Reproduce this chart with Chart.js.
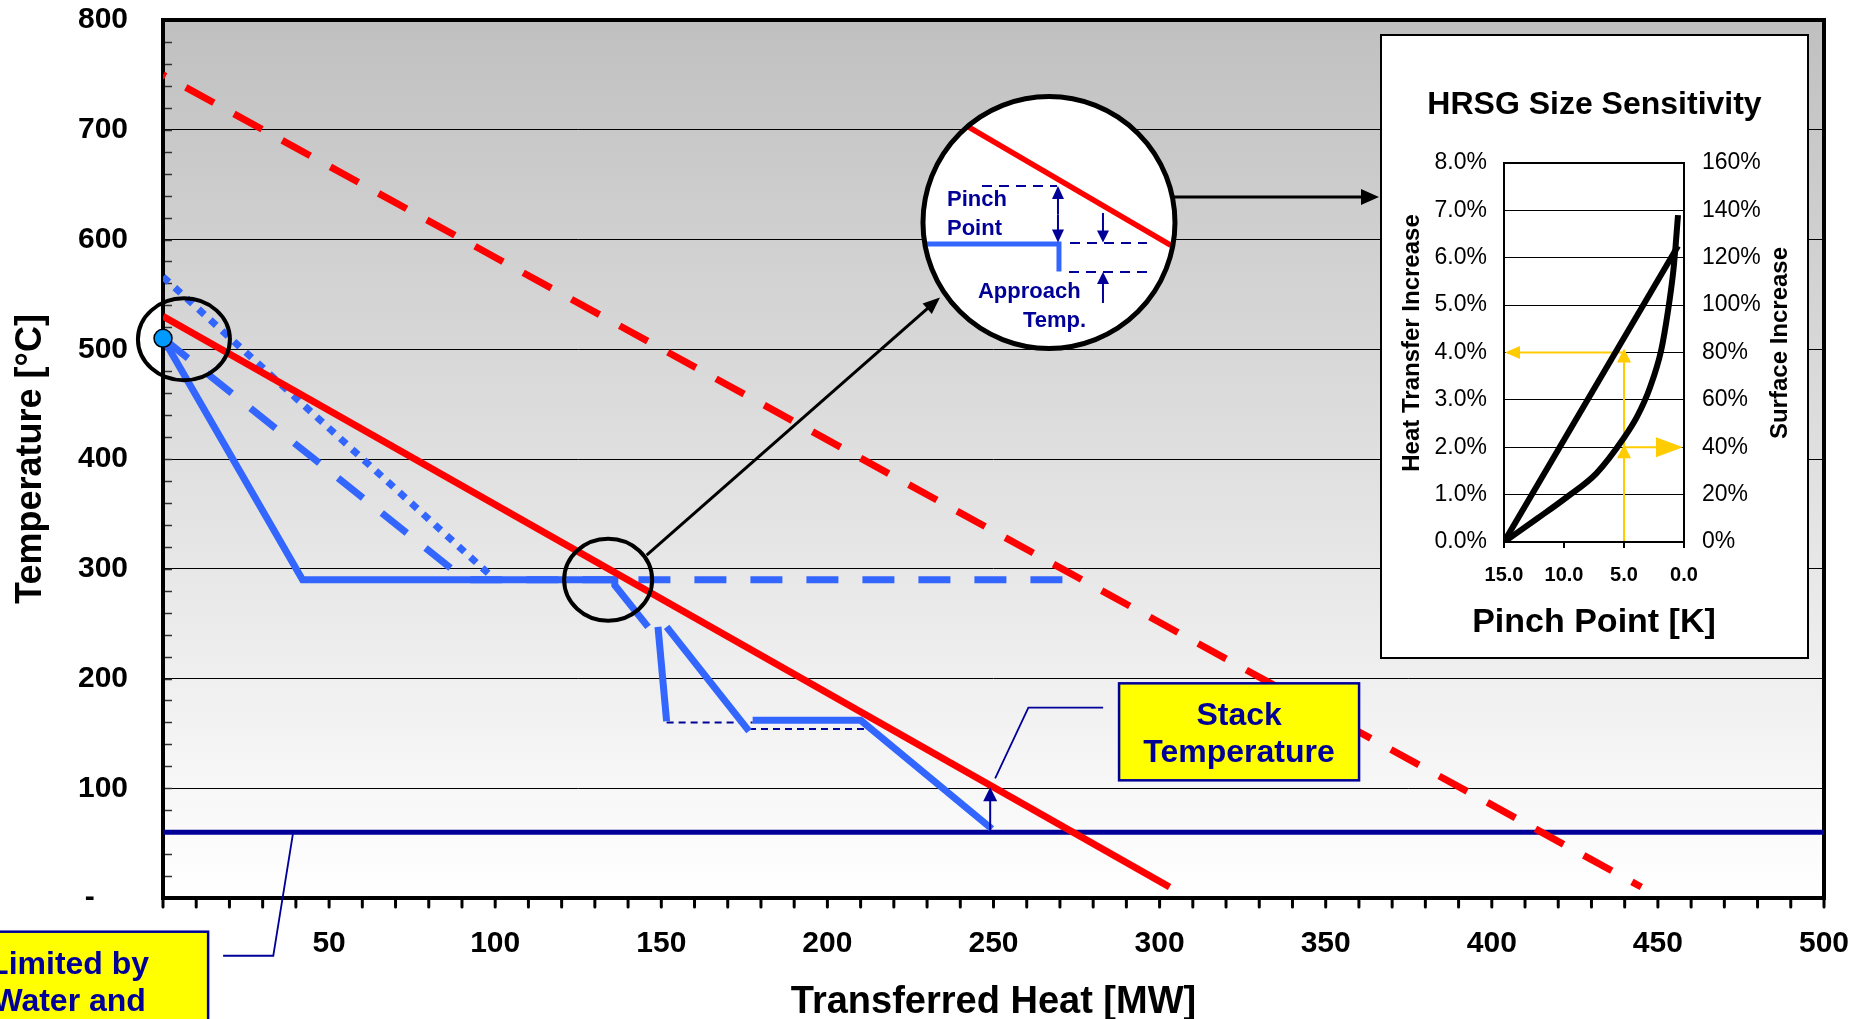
<!DOCTYPE html>
<html>
<head>
<meta charset="utf-8">
<title>HRSG temperature profile</title>
<script src="https://cdn.jsdelivr.net/npm/chart.js@4.4.1/dist/chart.umd.min.js"></script>
<style>
  html, body { margin: 0; padding: 0; background: #fff; overflow: hidden; }
  #wrap { position: relative; width: 1861px; height: 1019px; }
  #main { position: absolute; left: 0; top: 0; }
  #inset { position: absolute; }
</style>
</head>
<body>
<div id="wrap">
  <canvas id="main" width="1861" height="1019"></canvas>
  <canvas id="inset"></canvas>
</div>
<script>
// ---- main chart: transferred heat [MW] vs temperature [°C] ----
const heatTicks = [0, 50, 100, 150, 200, 250, 300, 350, 400, 450, 500];
const tempTicks = [0, 100, 200, 300, 400, 500, 600, 700, 800];

const gasQ = [0, 303];                 const gasT = [530, 10];
const gasHotQ = [0, 445];              const gasHotT = [750, 10];
const evapQ = [0, 42, 136, 136, 146];  const evapT = [510, 290, 290, 285, 247];
const evapDashQ = [0, 91, 272];        const evapDashT = [510, 290, 290];
const evapDotQ = [0, 100];             const evapDotT = [566, 290];
const ecoDropQ = [149, 151.6];         const ecoDropT = [247, 161];
const ecoSlopeQ = [151.6, 176.4];      const ecoSlopeT = [247, 152];
const ecoLowQ = [177.5, 210, 249.5];   const ecoLowT = [162, 162, 63];
const stepHighQ = [151.6, 177.5];      const stepHighT = [160, 160];
const stepLowQ = [176.4, 211];         const stepLowT = [154, 154];
const stackQ = [0, 500];               const stackT = [60, 60];
const inletQ = [0];                    const inletT = [510];

// ---- inset: HRSG size sensitivity ----
const pinchTicks = [0, 5, 10, 15];
const heatIncTicks = [0, 1, 2, 3, 4, 5, 6, 7, 8];
const surfIncTicks = [0, 20, 40, 60, 80, 100, 120, 140, 160];
const htPinch = [15, 0.5];             const htInc = [0, 6.25];
const sfPinch = [15, 12.2, 9.75, 7.3, 5.0, 3.9, 2.85, 1.9, 1.35, 0.9, 0.7, 0.5];
const sfInc = [0, 10, 19, 29, 44, 53, 65, 81, 97, 114, 125, 138];
const guidePinch = 5, guideHeat = 4, guideSurface = 40;

const heatMinor = 10, tempMinor = 20;
const insetBox = { left: 1380, top: 34, width: 429, height: 625 };

// annotation anchors (data units), sizes in px
const notes = {
  inletRing: { q: 6.3, t: 509, rx: 46, ry: 41 },
  pinchRing: { q: 134, t: 290, rx: 44, ry: 41 },
  lens: { q: 266.7, t: 615.5, r: 126 },
  stackArrow: { q: 249, t0: 60, t1: 101 },
  stackBox: { q: 287.8, t: 195.6, w: 240, h: 97, lines: ['Stack', 'Temperature'] },
  stackLeader: [[283, 173.4], [260.5, 173.4], [250.5, 109]],
  limitBox: { q: -70.1, t: -30.7, w: 278, h: 120, lines: ['Limited by', 'Water and'] },
  limitLeader: [[18.1, -52.6], [33.2, -52.6], [39.1, 58.3]],
};

const FONT = 'Liberation Sans';
const NAVY = '#000099', BLUE = '#3366ff', RED = '#ff0000', GOLD = '#ffcc00';
const CLEAR = 'rgba(0,0,0,0)';
Chart.defaults.font.family = FONT;
Chart.defaults.color = '#000';

const zip = (xs, ys) => xs.map((x, i) => ({ x, y: ys[i] }));

function seg(label, xs, ys, color, width, dash, order, extra) {
  return Object.assign({
    label, data: zip(xs, ys), showLine: true, borderColor: color, borderWidth: width,
    borderDash: dash || [], pointRadius: 0, pointHoverRadius: 0, order,
  }, extra || {});
}

function arrow(ctx, x1, y1, x2, y2, len, half, width, color) {
  const a = Math.atan2(y2 - y1, x2 - x1);
  const c = Math.cos(a), s = Math.sin(a);
  ctx.save();
  ctx.strokeStyle = color; ctx.fillStyle = color; ctx.lineWidth = width;
  ctx.setLineDash([]);
  ctx.beginPath(); ctx.moveTo(x1, y1); ctx.lineTo(x2 - c * len * 0.9, y2 - s * len * 0.9); ctx.stroke();
  ctx.beginPath(); ctx.moveTo(x2, y2);
  ctx.lineTo(x2 - c * len - s * half, y2 - s * len + c * half);
  ctx.lineTo(x2 - c * len + s * half, y2 - s * len - c * half);
  ctx.closePath(); ctx.fill();
  ctx.restore();
}

function dashed(ctx, x1, y1, x2, y2, dash, width, color) {
  ctx.save();
  ctx.strokeStyle = color; ctx.lineWidth = width; ctx.setLineDash(dash);
  ctx.beginPath(); ctx.moveTo(x1, y1); ctx.lineTo(x2, y2); ctx.stroke();
  ctx.restore();
}

function text(ctx, str, x, y, size, color, align) {
  ctx.save();
  ctx.font = 'bold ' + size + 'px ' + FONT;
  ctx.fillStyle = color; ctx.textAlign = align || 'left'; ctx.textBaseline = 'alphabetic';
  ctx.fillText(str, x, y);
  ctx.restore();
}

function vtext(ctx, str, x, y, size) {
  ctx.save();
  ctx.translate(x, y);
  ctx.rotate(-Math.PI / 2);
  ctx.font = 'bold ' + size + 'px ' + FONT;
  ctx.fillStyle = '#000'; ctx.textAlign = 'center'; ctx.textBaseline = 'middle';
  ctx.fillText(str, 0, 0);
  ctx.restore();
}

function drawLens(ctx, cx, cy) {
  // zoomed view of the pinch point
  ctx.save();
  ctx.lineCap = 'butt';
  ctx.strokeStyle = RED; ctx.lineWidth = 5.5;
  ctx.beginPath(); ctx.moveTo(cx - 90, cy - 101); ctx.lineTo(cx + 122, cy + 23); ctx.stroke();
  ctx.strokeStyle = BLUE; ctx.lineWidth = 5;
  ctx.beginPath(); ctx.moveTo(cx - 130, cy + 21.5); ctx.lineTo(cx + 10, cy + 21.5); ctx.lineTo(cx + 10, cy + 49); ctx.stroke();
  ctx.restore();
  dashed(ctx, cx - 67, cy - 36.5, cx + 8, cy - 36.5, [10, 7], 2, NAVY);
  dashed(ctx, cx + 21, cy + 20.5, cx + 98, cy + 20.5, [10, 7], 2, NAVY);
  dashed(ctx, cx + 20, cy + 49.5, cx + 98, cy + 49.5, [10, 7], 2, NAVY);
  const mid = cy - 8;
  arrow(ctx, cx + 9, mid, cx + 9, cy - 36.5, 13, 6, 2, NAVY);
  arrow(ctx, cx + 9, mid, cx + 9, cy + 20, 13, 6, 2, NAVY);
  arrow(ctx, cx + 54, cy - 9.5, cx + 54, cy + 20, 12, 6, 2, NAVY);
  arrow(ctx, cx + 54, cy + 80.5, cx + 54, cy + 49.5, 12, 6, 2, NAVY);
  text(ctx, 'Pinch', cx - 102, cy - 16.5, 22, NAVY);
  text(ctx, 'Point', cx - 102, cy + 12.5, 22, NAVY);
  text(ctx, 'Approach', cx - 71, cy + 76, 22, NAVY);
  text(ctx, 'Temp.', cx - 26, cy + 105, 22, NAVY);
}

function callout(ctx, x, y, box) {
  ctx.save();
  ctx.fillStyle = '#ffff00'; ctx.strokeStyle = NAVY; ctx.lineWidth = 2.5;
  ctx.fillRect(x, y, box.w, box.h); ctx.strokeRect(x, y, box.w, box.h);
  ctx.restore();
  box.lines.forEach((s, i) => text(ctx, s, x + box.w / 2, y + 42 + i * 37, 32, NAVY, 'center'));
}

function leader(ctx, pts) {
  ctx.save();
  ctx.strokeStyle = NAVY; ctx.lineWidth = 1.8;
  ctx.beginPath();
  pts.forEach(([x, y], i) => (i ? ctx.lineTo(x, y) : ctx.moveTo(x, y)));
  ctx.stroke();
  ctx.restore();
}

const mainDeco = {
  id: 'mainDeco',
  beforeDraw(chart) {
    const { ctx, chartArea: a } = chart;
    const g = ctx.createLinearGradient(0, a.top, 0, a.bottom);
    g.addColorStop(0, '#c0c0c0');
    g.addColorStop(1, '#ffffff');
    ctx.save(); ctx.fillStyle = g; ctx.fillRect(a.left, a.top, a.width, a.height); ctx.restore();
  },
  beforeDatasetsDraw(chart) {
    const { ctx, chartArea: a, scales: { x: xs, y: ys } } = chart;
    ctx.save();
    ctx.strokeStyle = '#333'; ctx.lineWidth = 1.5;
    for (let t = tempMinor; t < 800; t += tempMinor) {
      const y = Math.round(ys.getPixelForValue(t)) + 0.5;
      ctx.beginPath(); ctx.moveTo(a.left, y); ctx.lineTo(a.left + 9, y); ctx.stroke();
    }
    ctx.strokeStyle = '#000'; ctx.lineWidth = 3; ctx.lineCap = 'round';
    for (let q = 0; q <= 500; q += heatMinor) {
      const x = xs.getPixelForValue(q);
      ctx.beginPath(); ctx.moveTo(x, a.bottom); ctx.lineTo(x, a.bottom + 9); ctx.stroke();
    }
    ctx.lineCap = 'butt'; ctx.lineWidth = 4;
    ctx.strokeRect(a.left, a.top, a.width, a.height);
    ctx.restore();
  },
  afterDatasetsDraw(chart) {
    const { ctx, scales: { x: xs, y: ys } } = chart;
    const P = (q, t) => [xs.getPixelForValue(q), ys.getPixelForValue(t)];
    ctx.save();
    ctx.strokeStyle = '#000'; ctx.lineWidth = 4;
    [notes.inletRing, notes.pinchRing].forEach((r) => {
      const [x, y] = P(r.q, r.t);
      ctx.beginPath(); ctx.ellipse(x, y, r.rx, r.ry, 0, 0, Math.PI * 2); ctx.stroke();
    });
    const [px, py] = P(notes.pinchRing.q, notes.pinchRing.t);
    const [lx, ly] = P(notes.lens.q, notes.lens.t);
    const r = notes.lens.r;
    arrow(ctx, px + 38.5, py - 24.5, lx - 109, ly + 75, 17, 7, 3, '#000');
    arrow(ctx, lx + 120, ly - 25.5, insetBox.left - 1, ly - 25.5, 18, 8, 3, '#000');

    ctx.beginPath(); ctx.arc(lx, ly, r, 0, Math.PI * 2);
    ctx.fillStyle = '#fff'; ctx.fill();
    ctx.save(); ctx.clip(); drawLens(ctx, lx, ly); ctx.restore();
    ctx.beginPath(); ctx.arc(lx, ly, r, 0, Math.PI * 2);
    ctx.strokeStyle = '#000'; ctx.lineWidth = 5; ctx.stroke();

    const sa = notes.stackArrow;
    const [ax, ay0] = P(sa.q, sa.t0);
    const ay1 = ys.getPixelForValue(sa.t1);
    arrow(ctx, ax, ay0, ax, ay1, 14, 7, 2, NAVY);
    leader(ctx, notes.stackLeader.map(([q, t]) => P(q, t)));
    leader(ctx, notes.limitLeader.map(([q, t]) => P(q, t)));
    [notes.stackBox, notes.limitBox].forEach((b) => {
      const [bx, by] = P(b.q, b.t);
      callout(ctx, bx, by, b);
    });
    ctx.restore();
  },
};

new Chart(document.getElementById('main'), {
  type: 'scatter',
  data: {
    datasets: [
      seg('Gas inlet', inletQ, inletT, '#000', 0, [], 0, {
        showLine: false, pointRadius: 9, pointBackgroundColor: '#0099ff',
        pointBorderColor: '#000', pointBorderWidth: 1.5, clip: false,
      }),
      seg('Exhaust gas', gasQ, gasT, RED, 7, [], 1),
      seg('Evaporator', evapQ, evapT, BLUE, 7, [], 2),
      seg('Economizer drop', ecoDropQ, ecoDropT, BLUE, 7, [], 2),
      seg('Economizer slope', ecoSlopeQ, ecoSlopeT, BLUE, 7, [], 2),
      seg('Economizer low', ecoLowQ, ecoLowT, BLUE, 7, [], 2),
      seg('Step high', stepHighQ, stepHighT, NAVY, 2, [7, 5], 3),
      seg('Step low', stepLowQ, stepLowT, NAVY, 2, [7, 5], 3),
      seg('Evaporator (dashed)', evapDashQ, evapDashT, BLUE, 7, [32, 24], 4),
      seg('Evaporator (dotted)', evapDotQ, evapDotT, BLUE, 7, [8, 8], 5),
      seg('Exhaust gas (fired)', gasHotQ, gasHotT, RED, 7, [32, 23], 6, { borderDashOffset: 29 }),
      seg('Stack limit', stackQ, stackT, NAVY, 5, [], 7),
    ],
  },
  options: {
    responsive: false,
    animation: false,
    devicePixelRatio: 1,
    layout: { padding: { top: 20, right: 37, bottom: 0, left: 0 } },
    plugins: { legend: { display: false }, tooltip: { enabled: false } },
    scales: {
      x: {
        type: 'linear', min: 0, max: 500,
        afterBuildTicks: (s) => { s.ticks = heatTicks.map((v) => ({ value: v })); },
        afterFit: (s) => { s.height = 121; },
        grid: { drawOnChartArea: false, drawTicks: true, tickLength: 28, tickColor: CLEAR },
        border: { display: false },
        ticks: {
          padding: 0, autoSkip: false, maxRotation: 0,
          font: { size: 30, weight: 'bold' },
          callback: (v) => (v === 0 ? '' : v),
        },
        title: {
          display: true, text: 'Transferred Heat [MW]',
          font: { size: 38, weight: 'bold', lineHeight: 1 }, padding: { top: 0, bottom: -3 },
        },
      },
      y: {
        type: 'linear', min: 0, max: 800,
        afterBuildTicks: (s) => { s.ticks = tempTicks.map((v) => ({ value: v })); },
        afterFit: (s) => { s.width = 163; },
        grid: {
          drawTicks: true, tickLength: 35, tickColor: CLEAR, lineWidth: 1,
          color: (c) => (c.tick && c.tick.value > 0 && c.tick.value < 800 ? '#000' : CLEAR),
        },
        border: { display: false },
        ticks: {
          padding: 0, autoSkip: false,
          font: { size: 30, weight: 'bold' },
          callback: (v) => (v === 0 ? '-    ' : v),
        },
        title: {
          display: true, text: 'Temperature [°C]',
          font: { size: 36, weight: 'bold', lineHeight: 1 }, padding: { top: 13, bottom: 0 },
        },
      },
    },
  },
  plugins: [mainDeco],
});

// ---- inset chart ----
const insetDeco = {
  id: 'insetDeco',
  beforeDraw(chart) {
    const { ctx, width, height } = chart;
    ctx.save(); ctx.fillStyle = '#fff'; ctx.fillRect(0, 0, width, height); ctx.restore();
  },
  beforeDatasetsDraw(chart) {
    const { ctx, chartArea: a, scales: { x: xs, y: ys, y2 } } = chart;
    const gx = xs.getPixelForValue(guidePinch);
    const gyHeat = ys.getPixelForValue(guideHeat);
    const gySurf = y2.getPixelForValue(guideSurface);
    ctx.save();
    ctx.strokeStyle = GOLD; ctx.lineWidth = 2;
    ctx.beginPath(); ctx.moveTo(gx, a.bottom); ctx.lineTo(gx, gySurf + 10); ctx.stroke();
    ctx.restore();
    arrow(ctx, gx, gySurf + 2, gx, gyHeat - 4, 14, 7, 2, GOLD);
    arrow(ctx, gx, a.bottom - 40, gx, gySurf - 3, 14, 7, 2, GOLD);
    arrow(ctx, gx, gyHeat, a.left + 1, gyHeat, 15, 6.5, 2, GOLD);
    arrow(ctx, gx, gySurf, a.right - 1, gySurf, 27, 10, 2, GOLD);
  },
  afterDatasetsDraw(chart) {
    const { ctx, chartArea: a, width, height } = chart;
    ctx.save();
    ctx.strokeStyle = '#000'; ctx.lineWidth = 2;
    ctx.strokeRect(a.left, a.top, a.width, a.height);
    ctx.strokeRect(1, 1, width - 2, height - 2);
    ctx.font = 'bold 34px ' + FONT;
    ctx.fillStyle = '#000'; ctx.textAlign = 'center'; ctx.textBaseline = 'middle';
    ctx.fillText('Pinch Point [K]', (a.left + a.right) / 2, 589);
    ctx.restore();
    vtext(ctx, 'Heat Transfer Increase', 32, 309, 24);
    vtext(ctx, 'Surface Increase', 400, 309, 24);
  },
};

const insetCanvas = document.getElementById('inset');
insetCanvas.width = insetBox.width;
insetCanvas.height = insetBox.height;
insetCanvas.style.left = insetBox.left + 'px';
insetCanvas.style.top = insetBox.top + 'px';

new Chart(insetCanvas, {
  type: 'scatter',
  data: {
    datasets: [
      seg('Heat transfer increase', htPinch, htInc, '#000', 6, [], 0, { yAxisID: 'y' }),
      seg('Surface increase', sfPinch, sfInc, '#000', 6, [], 1, { yAxisID: 'y2', cubicInterpolationMode: 'monotone' }),
    ],
  },
  options: {
    responsive: false,
    animation: false,
    devicePixelRatio: 1,
    layout: { padding: 0 },
    plugins: {
      legend: { display: false },
      tooltip: { enabled: false },
      title: {
        display: true, text: 'HRSG Size Sensitivity', color: '#000',
        font: { size: 32, weight: 'bold', lineHeight: 1 }, padding: { top: 55, bottom: 42 },
      },
    },
    scales: {
      x: {
        type: 'linear', reverse: true, min: 0, max: 15,
        afterBuildTicks: (s) => { s.ticks = pinchTicks.map((v) => ({ value: v })); },
        afterFit: (s) => { s.height = 117; },
        grid: { drawOnChartArea: false, drawTicks: true, tickLength: 6, color: '#000', lineWidth: 2 },
        border: { display: false },
        ticks: {
          padding: 15, autoSkip: false, maxRotation: 0,
          font: { size: 20, weight: 'bold' },
          callback: (v) => v.toFixed(1),
        },
      },
      y: {
        type: 'linear', position: 'left', min: 0, max: 8,
        afterBuildTicks: (s) => { s.ticks = heatIncTicks.map((v) => ({ value: v })); },
        afterFit: (s) => { s.width = 124; },
        grid: {
          drawTicks: false, lineWidth: 1,
          color: (c) => (c.tick && c.tick.value > 0 && c.tick.value < 8 ? '#000' : CLEAR),
        },
        border: { display: false },
        ticks: { padding: 17, autoSkip: false, font: { size: 23 }, callback: (v) => v.toFixed(1) + '%' },
      },
      y2: {
        type: 'linear', position: 'right', min: 0, max: 160,
        afterBuildTicks: (s) => { s.ticks = surfIncTicks.map((v) => ({ value: v })); },
        afterFit: (s) => { s.width = 125; },
        grid: { display: false, drawTicks: false },
        border: { display: false },
        ticks: { padding: 18, autoSkip: false, font: { size: 23 }, callback: (v) => v + '%' },
      },
    },
  },
  plugins: [insetDeco],
});
</script>
</body>
</html>
